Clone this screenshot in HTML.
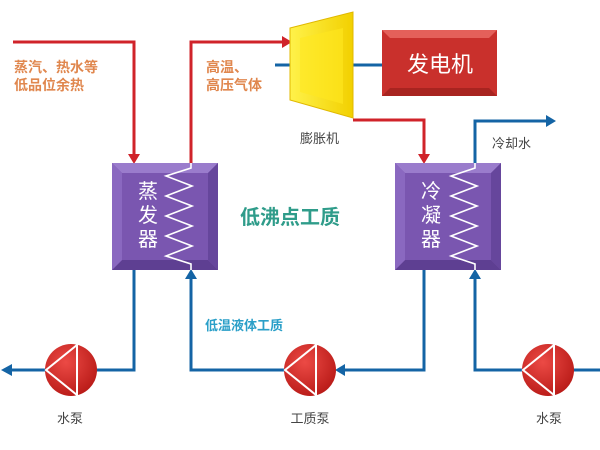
<!DOCTYPE html>
<html><head><meta charset="utf-8"><style>
html,body{margin:0;padding:0;background:#fff;}
svg{display:block;}
text{font-family:"Liberation Sans","Noto Sans CJK SC",sans-serif;}
</style></head><body>
<svg width="600" height="450" viewBox="0 0 600 450" xmlns="http://www.w3.org/2000/svg">
<defs>
<radialGradient id="pg" cx="0.4" cy="0.35" r="0.7"><stop offset="0" stop-color="#ec4a45"/><stop offset="1" stop-color="#b81a17"/></radialGradient>
<linearGradient id="yg" x1="0" x2="1"><stop offset="0" stop-color="#fff24a"/><stop offset="1" stop-color="#f2d000"/></linearGradient>
</defs>
<rect width="600" height="450" fill="#fff"/>
<g stroke="#d0232a" stroke-width="3" fill="none">
<polyline points="13,42 134,42 134,156"/>
<polyline points="191,163 191,42 284,42"/>
<polyline points="353,120 424,120 424,156"/>
</g>
<g fill="#d0232a">
<polygon points="128,154 140,154 134,164"/>
<polygon points="282,36 282,48 292,42"/>
<polygon points="418,154 430,154 424,164"/>
</g>
<g stroke="#1464a5" stroke-width="3" fill="none">
<line x1="275" y1="65" x2="292" y2="65"/>
<line x1="352" y1="65" x2="383" y2="65"/>
<polyline points="475,163 475,121 548,121"/>
<polyline points="134,270 134,370 96,370"/>
<line x1="46" y1="370" x2="10" y2="370"/>
<polyline points="191,276 191,370 284,370"/>
<polyline points="424,270 424,370 343,370"/>
<polyline points="475,276 475,370 522,370"/>
<line x1="572" y1="370" x2="600" y2="370"/>
</g>
<g fill="#1464a5">
<polygon points="546,115 546,127 556,121"/>
<polygon points="12,364 12,376 1,370"/>
<polygon points="185,279 197,279 191,269"/>
<polygon points="345,364 345,376 335,370"/>
<polygon points="469,279 481,279 475,269"/>
</g>
<polygon points="290,28 353,12 353,118 290,100" fill="url(#yg)" stroke="#e0b800" stroke-width="1"/>
<polygon points="300,38 343,28 343,104 300,92" fill="#ffe820" opacity="0.6"/>
<rect x="382" y="30" width="115" height="66" fill="#c9302c"/>
<polygon points="382,30 497,30 489,38 390,38" fill="#e4605a"/>
<polygon points="382,96 497,96 489,88 390,88" fill="#a82420"/>
<text x="440" y="72" font-size="22" fill="#fff" text-anchor="middle">发电机</text>
<rect x="112" y="163" width="106" height="107" fill="#7a56b0"/>
<polygon points="112,163 218,163 208,173 122,173" fill="#9a7ccc"/>
<polygon points="112,270 218,270 208,260 122,260" fill="#5e3f92"/>
<polygon points="112,163 122,173 122,260 112,270" fill="#8a68c0"/>
<polygon points="218,163 208,173 208,260 218,270" fill="#66469c"/>
<polyline points="191,163 191,168 166,176 192,186 166,196 192,206 166,216 192,226 166,236 192,246 166,256 191,264 191,270" fill="none" stroke="#fff" stroke-width="1.6"/>
<text font-size="20" fill="#fff" text-anchor="middle"><tspan x="148" y="198">蒸</tspan><tspan x="148" y="222">发</tspan><tspan x="148" y="246">器</tspan></text>
<rect x="395" y="163" width="106" height="107" fill="#7a56b0"/>
<polygon points="395,163 501,163 491,173 405,173" fill="#9a7ccc"/>
<polygon points="395,270 501,270 491,260 405,260" fill="#5e3f92"/>
<polygon points="395,163 405,173 405,260 395,270" fill="#8a68c0"/>
<polygon points="501,163 491,173 491,260 501,270" fill="#66469c"/>
<polyline points="475,163 475,168 451,176 477,186 451,196 477,206 451,216 477,226 451,236 477,246 451,256 475,264 475,270" fill="none" stroke="#fff" stroke-width="1.6"/>
<text font-size="20" fill="#fff" text-anchor="middle"><tspan x="431" y="198">冷</tspan><tspan x="431" y="222">凝</tspan><tspan x="431" y="246">器</tspan></text>
<g>
<circle cx="71" cy="370" r="26" fill="url(#pg)"/>
<polygon points="46,370 77,345 77,395" fill="none" stroke="#fff" stroke-width="2"/>
<circle cx="310" cy="370" r="26" fill="url(#pg)"/>
<polygon points="285,370 316,345 316,395" fill="none" stroke="#fff" stroke-width="2"/>
<circle cx="548" cy="370" r="26" fill="url(#pg)"/>
<polygon points="523,370 554,345 554,395" fill="none" stroke="#fff" stroke-width="2"/>
</g>
<text font-size="14" fill="#e0874e" font-weight="bold"><tspan x="14" y="72">蒸汽、热水等</tspan><tspan x="14" y="90">低品位余热</tspan></text>
<text font-size="14" fill="#e0874e" font-weight="bold"><tspan x="206" y="72">高温、</tspan><tspan x="206" y="90">高压气体</tspan></text>
<text x="300" y="143" font-size="13" fill="#444">膨胀机</text>
<text x="492" y="148" font-size="13" fill="#444">冷却水</text>
<text x="240" y="224" font-size="20" fill="#2f9c8a" font-weight="bold">低沸点工质</text>
<text x="205" y="330" font-size="13" fill="#2a9fc8" font-weight="bold">低温液体工质</text>
<text x="70" y="423" font-size="13" fill="#444" text-anchor="middle">水泵</text>
<text x="310" y="423" font-size="13" fill="#444" text-anchor="middle">工质泵</text>
<text x="549" y="423" font-size="13" fill="#444" text-anchor="middle">水泵</text>
</svg>
</body></html>
